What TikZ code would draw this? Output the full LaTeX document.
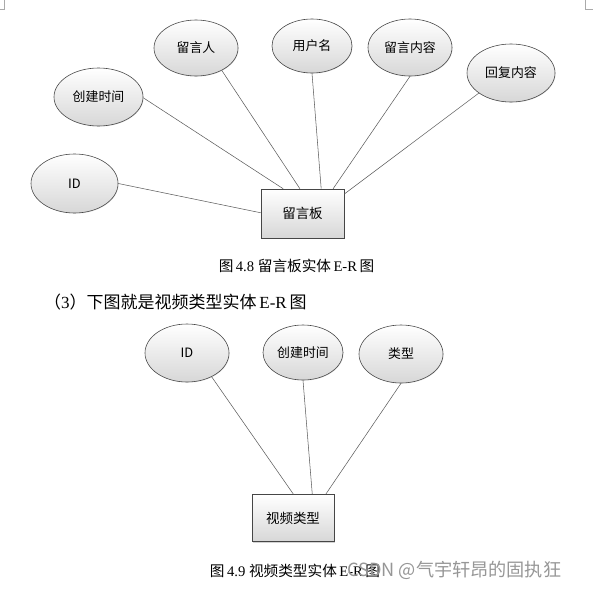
\documentclass[tikz,border=0pt]{standalone}
\usepackage{fontspec}
\setmainfont{Liberation Serif}
\newfontfamily\cjk{Noto Sans CJK SC}
\usepackage{tikz}
\usetikzlibrary{shapes.geometric, shadows}
\usepackage{xcolor}
\definecolor{edgegray}{RGB}{70, 70, 70}
\definecolor{linegray}{RGB}{90, 90, 90}
\definecolor{fadegray}{RGB}{215, 215, 215}
\definecolor{markgray}{RGB}{170, 170, 170}
\definecolor{wmgray}{RGB}{150, 150, 150}
\tikzset{
    attr/.style={
        ellipse,
        draw=edgegray,
        line width=0.5pt,
        inner sep=0pt,
        top color=white,
        bottom color=fadegray,
        drop shadow={shadow xshift=0.5pt, shadow yshift=-0.5pt, opacity=0.25},
        font=\cjk\fontsize{11}{13}\selectfont
    },
    entity/.style={
        rectangle,
        draw=edgegray,
        line width=0.5pt,
        inner sep=0pt,
        top color=white,
        bottom color=fadegray,
        drop shadow={shadow xshift=1pt, shadow yshift=-1pt, opacity=0.35},
        font=\cjk\fontsize{11.5}{14}\selectfont
    },
    link/.style={
        draw=linegray,
        line width=0.45pt
    },
    caption/.style={
        font=\fontsize{12.5}{15}\selectfont
    }
}

\begin{document}
\begin{tikzpicture}[x=0.03cm, y=-0.03cm]

\useasboundingbox (0,0) rectangle (593,590);

% page corner marks
\draw[markgray, line width=0.4pt] (0,9.3) -- (4.7,9.3) -- (4.7,0);
\draw[markgray, line width=0.4pt] (585.3,0) -- (585.3,9.3) -- (593,9.3);

% === Figure 4.8: message board ===
\node[entity, minimum width=2.49cm, minimum height=1.47cm] (board) at (302.5,213.5) {留言板};

\node[attr, minimum width=2.61cm, minimum height=1.77cm] (bid) at (74.5,183.5) {ID};
\node[attr, minimum width=2.67cm, minimum height=1.74cm] (btime) at (98.5,97) {创建时间};
\node[attr, minimum width=2.52cm, minimum height=1.68cm] (author) at (196,48) {留言人};
\node[attr, minimum width=2.40cm, minimum height=1.62cm] (user) at (312,46) {用户名};
\node[attr, minimum width=2.52cm, minimum height=1.71cm] (content) at (410,47.5) {留言内容};
\node[attr, minimum width=2.64cm, minimum height=1.74cm] (reply) at (511,73) {回复内容};

\draw[link] (bid.0) -- (board.179);
\draw[link] (btime.-1) -- (board.128.5);
\draw[link] (author.-41.5) -- (board.96);
\draw[link] (user.-90) -- (board.53.4);
\draw[link] (content.-90) -- (board.39);
\draw[link] (reply.212) -- (board.25.7);

\node[caption] (cap1) at (296.5,266) {{\cjk 图}\,4.8\ {\cjk 留言板实体}\,E-R\,{\cjk 图}};

% section text
\node[anchor=west, inner sep=0pt, font=\fontsize{14.5}{17}\selectfont] (sect) at (44,302)
    {{\cjk （}3{\cjk ）下图就是视频类型实体}\,E-R\,{\cjk 图}};

% === Figure 4.9: video type ===
\node[entity, minimum width=2.46cm, minimum height=1.41cm] (vtype) at (293,518) {视频类型};

\node[attr, minimum width=2.52cm, minimum height=1.74cm] (vid) at (187,353) {ID};
\node[attr, minimum width=2.40cm, minimum height=1.65cm] (vtime) at (303,352.5) {创建时间};
\node[attr, minimum width=2.52cm, minimum height=1.74cm] (kind) at (401,354) {类型};

\draw[link] (vid.-44) -- (vtype.89);
\draw[link] (vtime.-90) -- (vtype.51);
\draw[link] (kind.-90) -- (vtype.36);

\node[caption] (cap2) at (295,571) {{\cjk 图}\,4.9\ {\cjk 视频类型实体}\,E-R\,{\cjk 图}};

% watermark
\node[anchor=west, text=wmgray, font=\cjk\fontsize{15.5}{18}\selectfont, inner sep=0pt] (mark) at (347,570)
    {CSDN @气宇轩昂的固执狂};

\end{tikzpicture}
\end{document}
